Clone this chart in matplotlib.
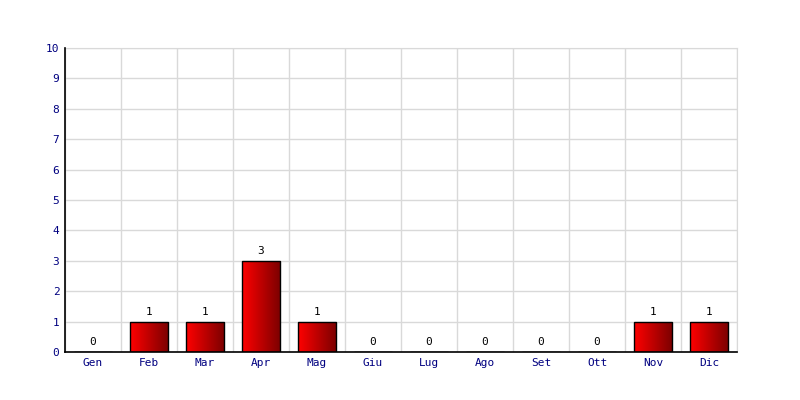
import matplotlib
matplotlib.use("Agg")
import matplotlib.pyplot as plt
import numpy as np
from matplotlib.colors import LinearSegmentedColormap

# ── Data ──
MONTHS = ["Gen", "Feb", "Mar", "Apr", "Mag", "Giu",
          "Lug", "Ago", "Set", "Ott", "Nov", "Dic"]
COUNTS = [0, 1, 1, 3, 1, 0, 0, 0, 0, 0, 1, 1]
Y_MAX = 10

plt.rcParams["font.family"] = ["DejaVu Sans Mono"]

fig = plt.figure(figsize=(8, 4), dpi=100)
ax = fig.add_axes([0.08125, 0.12, 0.84, 0.76])

x = np.arange(len(MONTHS))
bars = ax.bar(x, COUNTS, width=0.68, color="none", edgecolor="black",
              linewidth=1.0, zorder=3)

# horizontal red gradient inside each bar
cmap = LinearSegmentedColormap.from_list("redgrad", ["#ff0000", "#7a0000"])
grad = np.linspace(0, 1, 256).reshape(1, -1)
for bar in bars:
    h = bar.get_height()
    if h <= 0:
        continue
    x0 = bar.get_x()
    w = bar.get_width()
    im = ax.imshow(grad, cmap=cmap, aspect="auto",
                   extent=[x0, x0 + w, 0, h], zorder=2)
    im.set_clip_path(bar)

for xi, v in zip(x, COUNTS):
    ax.text(xi, v + 0.15, str(v), ha="center", va="bottom",
            fontsize=8, color="black")

ax.set_xlim(-0.5, len(MONTHS) - 0.5)
ax.set_ylim(0, Y_MAX)
ax.set_xticks(x)
ax.set_xticklabels(MONTHS, fontsize=8, color="#000080")
ax.set_yticks(range(0, Y_MAX + 1))
ax.set_yticklabels([str(i) for i in range(0, Y_MAX + 1)], fontsize=8,
                   color="#000080")
ax.tick_params(length=0, pad=4)

# grid: horizontal at integer values, vertical at category boundaries
ax.set_xticks(np.arange(-0.5, len(MONTHS)), minor=True)
ax.grid(axis="y", which="major", color="#d9d9d9", linewidth=1.0, zorder=0)
ax.grid(axis="x", which="minor", color="#d9d9d9", linewidth=1.0, zorder=0)
ax.tick_params(which="minor", length=0)
ax.set_axisbelow(True)

for side in ["top", "right"]:
    ax.spines[side].set_color("#d9d9d9")
for side in ["left", "bottom"]:
    ax.spines[side].set_color("black")
    ax.spines[side].set_linewidth(1.2)
    ax.spines[side].set_zorder(4)

fig.savefig("out.png", dpi=100)
